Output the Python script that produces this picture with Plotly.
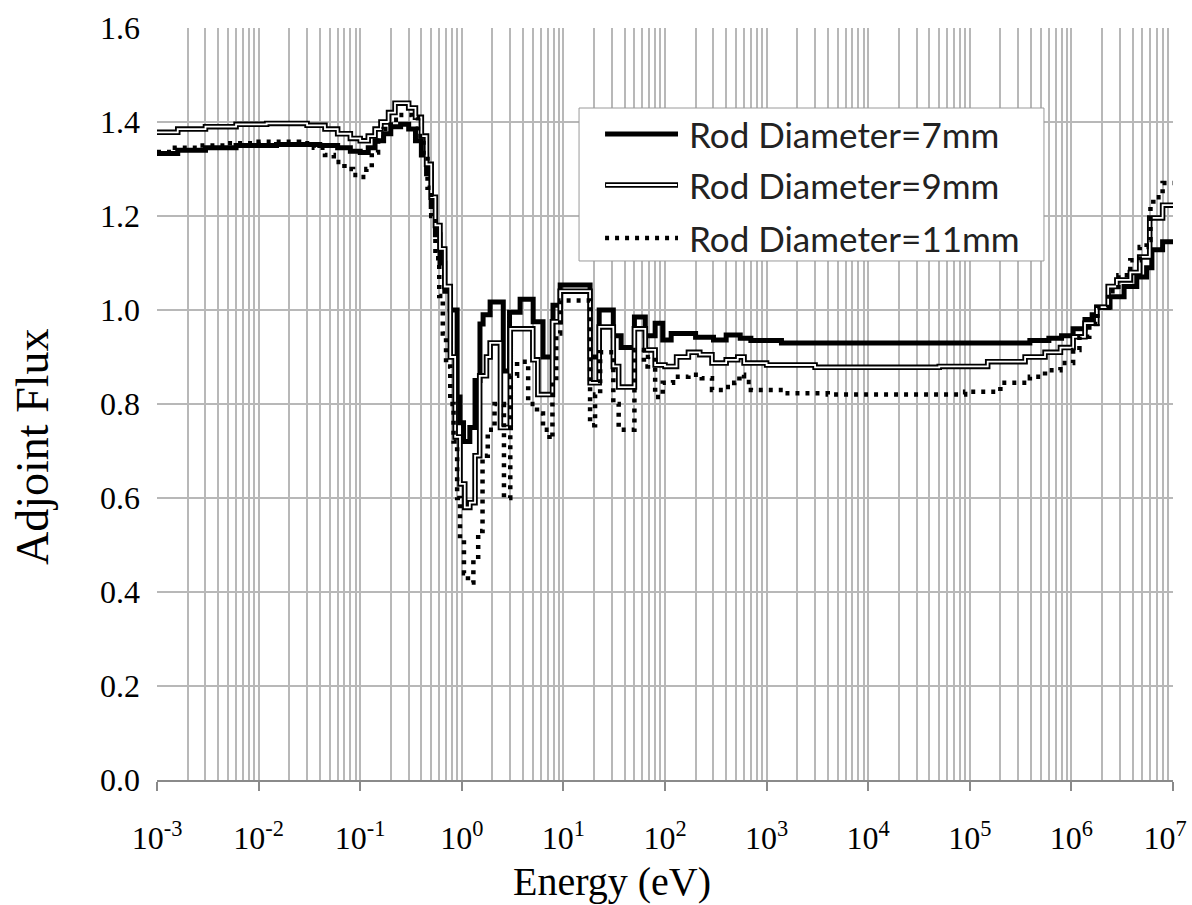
import plotly.graph_objects as go

# ---- data (step-wise multigroup adjoint flux) ----
e7 = [1e-3, 1.6e-3, 3e-3, 6e-3, 1.5e-2, 4e-2, 6e-2, 8e-2, 0.10, 0.12, 0.14, 0.17, 0.20, 0.25,
      0.30, 0.35, 0.40, 0.45, 0.50, 0.55, 0.61, 0.68, 0.77, 0.90, 0.96, 1.04, 1.2, 1.35, 1.51,
      1.62, 1.9, 2.56, 2.95, 3.75, 5.04, 6.3, 7.9, 9.3, 18.3, 22.5, 31, 37, 50, 64, 80,
      95, 115, 200, 300, 400, 550, 700, 1400, 2e5, 3.9e5, 6e5, 8e5, 1.04e6, 1.36e6, 1.6e6,
      1.78e6, 2.4e6, 3.3e6, 4.4e6, 5.5e6, 6.2e6, 7.9e6, 1e7]
v7 = [1.333, 1.34, 1.345, 1.35, 1.352, 1.35, 1.345, 1.338, 1.335, 1.345, 1.36, 1.375, 1.39, 1.395,
      1.385, 1.36, 1.33, 1.29, 1.22, 1.16, 1.10, 1.04, 1.00, 0.815, 0.76, 0.72, 0.75, 0.85, 0.97,
      0.99, 1.017, 0.87, 0.995, 1.023, 0.975, 0.90, 1.01, 1.053, 0.90, 1.00, 0.945, 0.92, 0.985, 0.945, 0.972,
      0.936, 0.95, 0.942, 0.936, 0.947, 0.94, 0.935, 0.93, 0.93, 0.935, 0.94, 0.945, 0.96, 0.98, 0.99,
      1.006, 1.028, 1.05, 1.07, 1.09, 1.128, 1.145, 1.145]

e9 = [1e-3, 1.6e-3, 3e-3, 6e-3, 1.2e-2, 3e-2, 4.5e-2, 6e-2, 8e-2, 0.10, 0.12, 0.14, 0.16, 0.19,
      0.22, 0.30, 0.35, 0.40, 0.45, 0.50, 0.55, 0.61, 0.68, 0.77, 0.86, 0.96, 1.07, 1.2, 1.35,
      1.5, 1.75, 1.9, 2.4, 3.0, 5.0, 5.6, 7.8, 9.3, 18.3, 22.5, 31, 35, 50, 64, 80, 100, 130,
      170, 220, 290, 400, 520, 600, 1000, 3000, 2e4, 5e4, 1.5e5, 3.5e5, 5.5e5, 7.8e5, 1.04e6,
      1.36e6, 1.78e6, 2.3e6, 2.8e6, 3.8e6, 4.7e6, 5.9e6, 7.9e6, 1e7]
v9 = [1.378, 1.385, 1.39, 1.395, 1.397, 1.393, 1.385, 1.375, 1.365, 1.36, 1.37, 1.385, 1.40, 1.42,
      1.44, 1.43, 1.41, 1.37, 1.31, 1.24, 1.18, 1.13, 1.05, 0.90, 0.73, 0.63, 0.58, 0.59, 0.69,
      0.86, 0.90, 0.93, 0.75, 0.96, 0.894, 0.82, 0.975, 1.04, 0.845, 0.964, 0.88, 0.836, 0.96, 0.915, 0.883, 0.88, 0.90,
      0.91, 0.905, 0.887, 0.894, 0.90, 0.887, 0.883, 0.878, 0.878, 0.88, 0.89, 0.90, 0.91, 0.92, 0.943,
      0.972, 1.006, 1.05, 1.064, 1.08, 1.113, 1.196, 1.223, 1.223]

e11 = [1e-3, 1.5e-3, 2.5e-3, 5e-3, 1e-2, 2.5e-2, 3.5e-2, 4.5e-2, 5.5e-2, 7e-2, 8.5e-2, 0.10, 0.115,
       0.13, 0.15, 0.17, 0.20, 0.24, 0.32, 0.37, 0.42, 0.46, 0.50, 0.55, 0.60, 0.65, 0.70, 0.77,
       0.83, 0.90, 0.96, 1.05, 1.15, 1.3, 1.45, 1.6, 1.8, 2.1, 2.6, 3.0, 3.5, 4.5, 5.5, 6.3, 7.3,
       7.8, 8.5, 9.3, 18.3, 20.5, 23, 31, 35, 50, 62, 68, 80, 95, 120, 170, 230, 290, 380, 480,
       540, 600, 700, 1500, 4000, 6e4, 9e4, 2e5, 3.9e5, 5.5e5, 7.8e5, 1.04e6, 1.2e6, 1.5e6,
       1.8e6, 2.3e6, 2.9e6, 3.8e6, 4.7e6, 5.5e6, 6.0e6, 6.4e6, 7.9e6, 1e7]
v11 = [1.336, 1.345, 1.35, 1.355, 1.358, 1.355, 1.345, 1.33, 1.315, 1.30, 1.287, 1.283, 1.30,
       1.335, 1.36, 1.385, 1.405, 1.415, 1.41, 1.37, 1.33, 1.26, 1.20, 1.11, 1.03, 0.95, 0.88, 0.80,
       0.72, 0.60, 0.51, 0.44, 0.42, 0.47, 0.53, 0.69, 0.745, 0.80, 0.60, 0.86, 0.89, 0.80, 0.78, 0.745, 0.725,
       0.85, 0.95, 1.02, 0.755, 0.82, 0.91, 0.80, 0.745, 0.915, 0.88, 0.90, 0.815, 0.845, 0.858, 0.862, 0.855, 0.83, 0.836, 0.845,
       0.862, 0.847, 0.83, 0.823, 0.82, 0.82, 0.826, 0.845, 0.858, 0.872, 0.887, 0.915, 0.943, 0.97,
       1.006, 1.04, 1.074, 1.106, 1.134, 1.149, 1.22, 1.24, 1.27, 1.27]

x_tickvals = [1e-3, 1e-2, 1e-1, 1e0, 1e1, 1e2, 1e3, 1e4, 1e5, 1e6, 1e7]
x_ticktext = ["10<sup>-3</sup>", "10<sup>-2</sup>", "10<sup>-1</sup>", "10<sup>0</sup>", "10<sup>1</sup>",
              "10<sup>2</sup>", "10<sup>3</sup>", "10<sup>4</sup>", "10<sup>5</sup>", "10<sup>6</sup>",
              "10<sup>7</sup>\u00a0\u00a0"]
legend_labels = ["Rod Diameter=7mm", "Rod Diameter=9mm", "Rod Diameter=11mm"]
x_title = "Energy (eV)"
y_title = "Adjoint Flux"

serif = "Liberation Serif, Times New Roman, serif"
sans = "Lato, Noto Sans, sans-serif"
grid = "#b8b8b8"

fig = go.Figure()
fig.add_trace(go.Scatter(x=e7, y=v7, mode="lines", line=dict(shape="hv", color="black", width=5),
                         name=legend_labels[0], showlegend=False))
fig.add_trace(go.Scatter(x=e9, y=v9, mode="lines", line=dict(shape="hv", color="black", width=5.5),
                         name=legend_labels[1], showlegend=False))
fig.add_trace(go.Scatter(x=e9, y=v9, mode="lines", line=dict(shape="hv", color="white", width=1.8),
                         name=legend_labels[1], showlegend=False, hoverinfo="skip"))
fig.add_trace(go.Scatter(x=e11, y=v11, mode="lines",
                         line=dict(shape="hv", color="black", width=4.5, dash="4px,6px"),
                         name=legend_labels[2], showlegend=False))

# ---- manual legend (style elements in paper coordinates) ----
fig.add_shape(type="rect", xref="paper", yref="paper", x0=0.4154, x1=0.873, y0=0.6902, y1=0.8936,
              line=dict(color="#9a9a9a", width=1), fillcolor="white", layer="above")
rows = [0.8590, 0.7912, 0.7207]
lx0, lx1 = 0.441, 0.5128
fig.add_shape(type="line", xref="paper", yref="paper", x0=lx0, x1=lx1, y0=rows[0], y1=rows[0],
              line=dict(color="black", width=5), layer="above")
fig.add_shape(type="line", xref="paper", yref="paper", x0=lx0, x1=lx1, y0=rows[1], y1=rows[1],
              line=dict(color="black", width=5.5), layer="above")
fig.add_shape(type="line", xref="paper", yref="paper", x0=lx0 + 0.001, x1=lx1 - 0.001, y0=rows[1], y1=rows[1],
              line=dict(color="white", width=1.8), layer="above")
fig.add_shape(type="line", xref="paper", yref="paper", x0=lx0, x1=lx1, y0=rows[2], y1=rows[2],
              line=dict(color="black", width=4.5, dash="4px,6px"), layer="above")
for r, lab in zip(rows, legend_labels):
    fig.add_annotation(xref="paper", yref="paper", x=0.5217, y=r, text=lab, showarrow=False,
                       xanchor="left", yanchor="middle", font=dict(family=sans, size=35, color="#222"))

# axis titles placed as in the reference (off-centre)
fig.add_annotation(xref="paper", yref="paper", x=0.448, y=-0.1356, text=x_title, showarrow=False,
                   xanchor="center", yanchor="middle", font=dict(family=serif, size=40, color="black"))
fig.add_annotation(xref="paper", yref="paper", x=-0.122, y=0.443, text=y_title, showarrow=False,
                   textangle=-90, xanchor="center", yanchor="middle",
                   font=dict(family=serif, size=46, color="black"))

fig.update_layout(
    width=1192, height=905,
    margin=dict(l=157, r=19, t=28, b=125),
    paper_bgcolor="white", plot_bgcolor="white",
    showlegend=False,
    xaxis=dict(type="log", range=[-3, 7], tickvals=x_tickvals, ticktext=x_ticktext,
               showgrid=True, gridcolor=grid, gridwidth=1.5,
               minor=dict(dtick="D1", showgrid=True, gridcolor=grid, gridwidth=1.5, ticks=""),
               showline=True, linecolor="#8a8a8a", linewidth=1.5,
               ticks="outside", ticklen=9, tickcolor="#8a8a8a", tickwidth=1.5,
               ticklabelstandoff=20, ticklabeloverflow="allow",
               tickfont=dict(family=serif, size=32, color="black"),
               zeroline=False, fixedrange=True, automargin=False),
    yaxis=dict(range=[0, 1.6], dtick=0.2, tickformat=".1f",
               showgrid=True, gridcolor=grid, gridwidth=1.5,
               showline=False, ticks="", zeroline=False,
               ticklabelstandoff=16,
               tickfont=dict(family=serif, size=32, color="black"),
               fixedrange=True, automargin=False),
)

fig.write_html("out.html", config={"displayModeBar": False},
               post_script="document.body.style.margin='0px';")
